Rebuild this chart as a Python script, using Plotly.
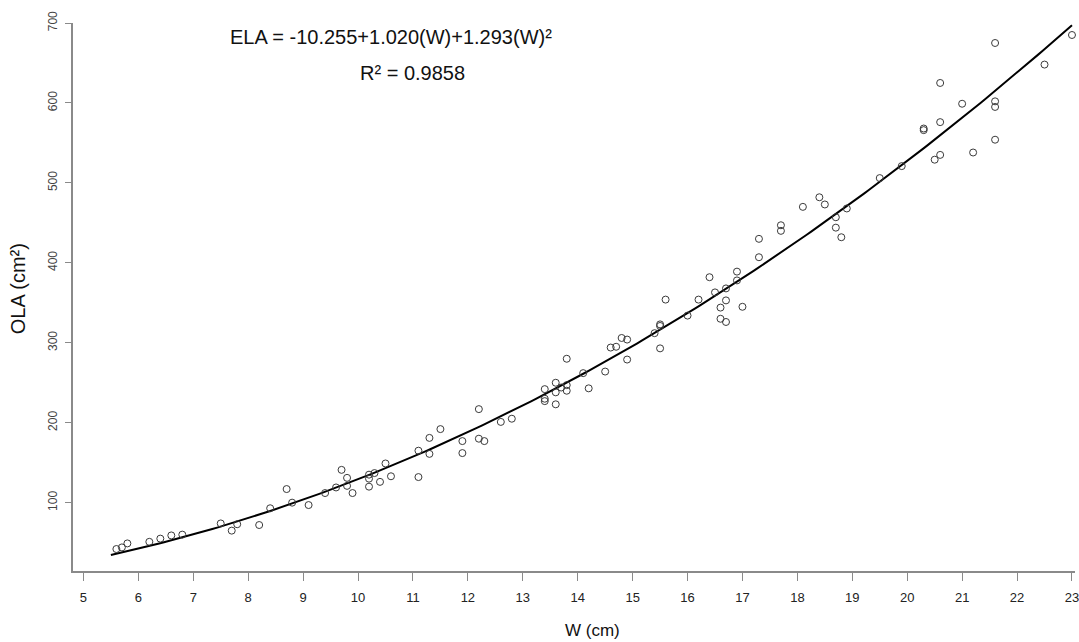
import numpy as np
import plotly.graph_objects as go

# observed leaf width (cm) and observed leaf area (cm2)
w_obs = [5.6, 5.7, 5.8, 6.2, 6.4, 6.6, 6.8, 7.5, 7.7, 7.8, 8.2, 8.4, 8.7, 8.8,
         9.1, 9.4, 9.6, 9.7, 9.8, 9.8, 9.9, 10.2, 10.2, 10.2, 10.3, 10.4, 10.5,
         10.6, 11.1, 11.1, 11.3, 11.3, 11.5, 11.9, 11.9, 12.2, 12.2, 12.3, 12.6,
         12.8, 13.4, 13.4, 13.4, 13.6, 13.6, 13.6, 13.7, 13.8, 13.8, 13.8, 14.1,
         14.2, 14.5, 14.6, 14.7, 14.8, 14.9, 14.9, 15.4, 15.5, 15.5, 15.5, 15.6,
         16.0, 16.2, 16.4, 16.5, 16.6, 16.6, 16.7, 16.7, 16.7, 16.9, 16.9, 17.0,
         17.3, 17.3, 17.7, 17.7, 18.1, 18.4, 18.5, 18.7, 18.7, 18.8, 18.9, 19.5,
         19.9, 20.3, 20.3, 20.5, 20.6, 20.6, 20.6, 21.0, 21.2, 21.6, 21.6, 21.6,
         21.6, 22.5, 23.0]
ola_obs = [42, 44, 49, 51, 55, 59, 60, 74, 65, 73, 72, 93, 117, 100,
           97, 112, 119, 141, 131, 121, 112, 135, 130, 120, 137, 126, 149,
           133, 165, 132, 181, 161, 192, 177, 162, 217, 180, 177, 201,
           205, 242, 230, 227, 250, 238, 223, 244, 280, 247, 240, 262,
           243, 264, 294, 295, 306, 304, 279, 312, 323, 321, 293, 354,
           334, 354, 382, 363, 344, 330, 368, 353, 326, 389, 378, 345,
           430, 407, 447, 440, 470, 482, 473, 457, 444, 432, 468, 506,
           521, 568, 566, 529, 625, 576, 535, 599, 538, 675, 602, 595,
           554, 648, 685]

# fitted model  ELA = b0 + b1*W + b2*W^2
coef = [-10.255, 1.020, 1.293]
w_fit = np.linspace(5.5, 23, 200)
ela_fit = coef[0] + coef[1] * w_fit + coef[2] * w_fit ** 2

x_ticks = list(range(5, 24))
y_ticks = [100, 200, 300, 400, 500, 600, 700]

FONT = 'Liberation Sans, Arial, sans-serif'
AXIS_GREY = '#8a8a8a'

fig = go.Figure()

fig.add_trace(go.Scatter(
    x=w_fit, y=ela_fit, mode='lines',
    line=dict(color='black', width=2),
    cliponaxis=False, showlegend=False, hoverinfo='skip'
))

fig.add_trace(go.Scatter(
    x=w_obs, y=ola_obs, mode='markers',
    marker=dict(symbol='circle-open', size=7, color='#3a3a3a',
                line=dict(width=1, color='#3a3a3a')),
    cliponaxis=False, showlegend=False
))

fig.update_layout(
    width=1079, height=642,
    margin=dict(l=73, r=4, t=23, b=71),
    paper_bgcolor='white', plot_bgcolor='white',
    font=dict(family=FONT),
)

# equation text
fig.add_annotation(
    x=0.3174, y=0.975, xref='paper', yref='paper',
    text='ELA = -10.255+1.020(W)+1.293(W)²', showarrow=False,
    xanchor='center', yanchor='middle',
    font=dict(family=FONT, size=20, color='#111111')
)
fig.add_annotation(
    x=0.3393, y=0.9093, xref='paper', yref='paper',
    text='R² = 0.9858', showarrow=False,
    xanchor='center', yanchor='middle',
    font=dict(family=FONT, size=20, color='#111111')
)

# axis titles
fig.add_annotation(
    x=-0.0549, y=0.516, xref='paper', yref='paper',
    text='OLA (cm²)', showarrow=False, textangle=-90,
    xanchor='center', yanchor='middle',
    font=dict(family=FONT, size=20, color='#111111')
)
fig.add_annotation(
    x=0.518, y=-0.1077, xref='paper', yref='paper',
    text='W (cm)', showarrow=False,
    xanchor='center', yanchor='middle',
    font=dict(family=FONT, size=17, color='#111111')
)

fig.update_xaxes(
    range=[4.81, 23.055], tickvals=x_ticks, ticktext=[str(t) for t in x_ticks],
    automargin=False, showgrid=False, zeroline=False,
    showline=True, linecolor=AXIS_GREY, linewidth=1.5,
    ticks='outside', ticklen=8, tickwidth=1.2, tickcolor=AXIS_GREY,
    ticklabelstandoff=6, ticklabeloverflow='allow',
    tickfont=dict(family=FONT, size=13, color='#222222'),
)
fig.update_yaxes(
    range=[14.5, 700], tickvals=y_ticks,
    automargin=False, showgrid=False, zeroline=False,
    showline=True, linecolor=AXIS_GREY, linewidth=1.5,
    ticks='outside', ticklen=6, tickwidth=1.2, tickcolor=AXIS_GREY,
    tickangle=-90, ticklabelstandoff=3,
    tickfont=dict(family=FONT, size=12, color='#444444'),
)

# drop the default page margin so the figure fills the window exactly
fig.write_html("out.html", config={'displayModeBar': False},
               post_script="document.body.style.margin='0';"
               "document.body.style.overflow='hidden';")
